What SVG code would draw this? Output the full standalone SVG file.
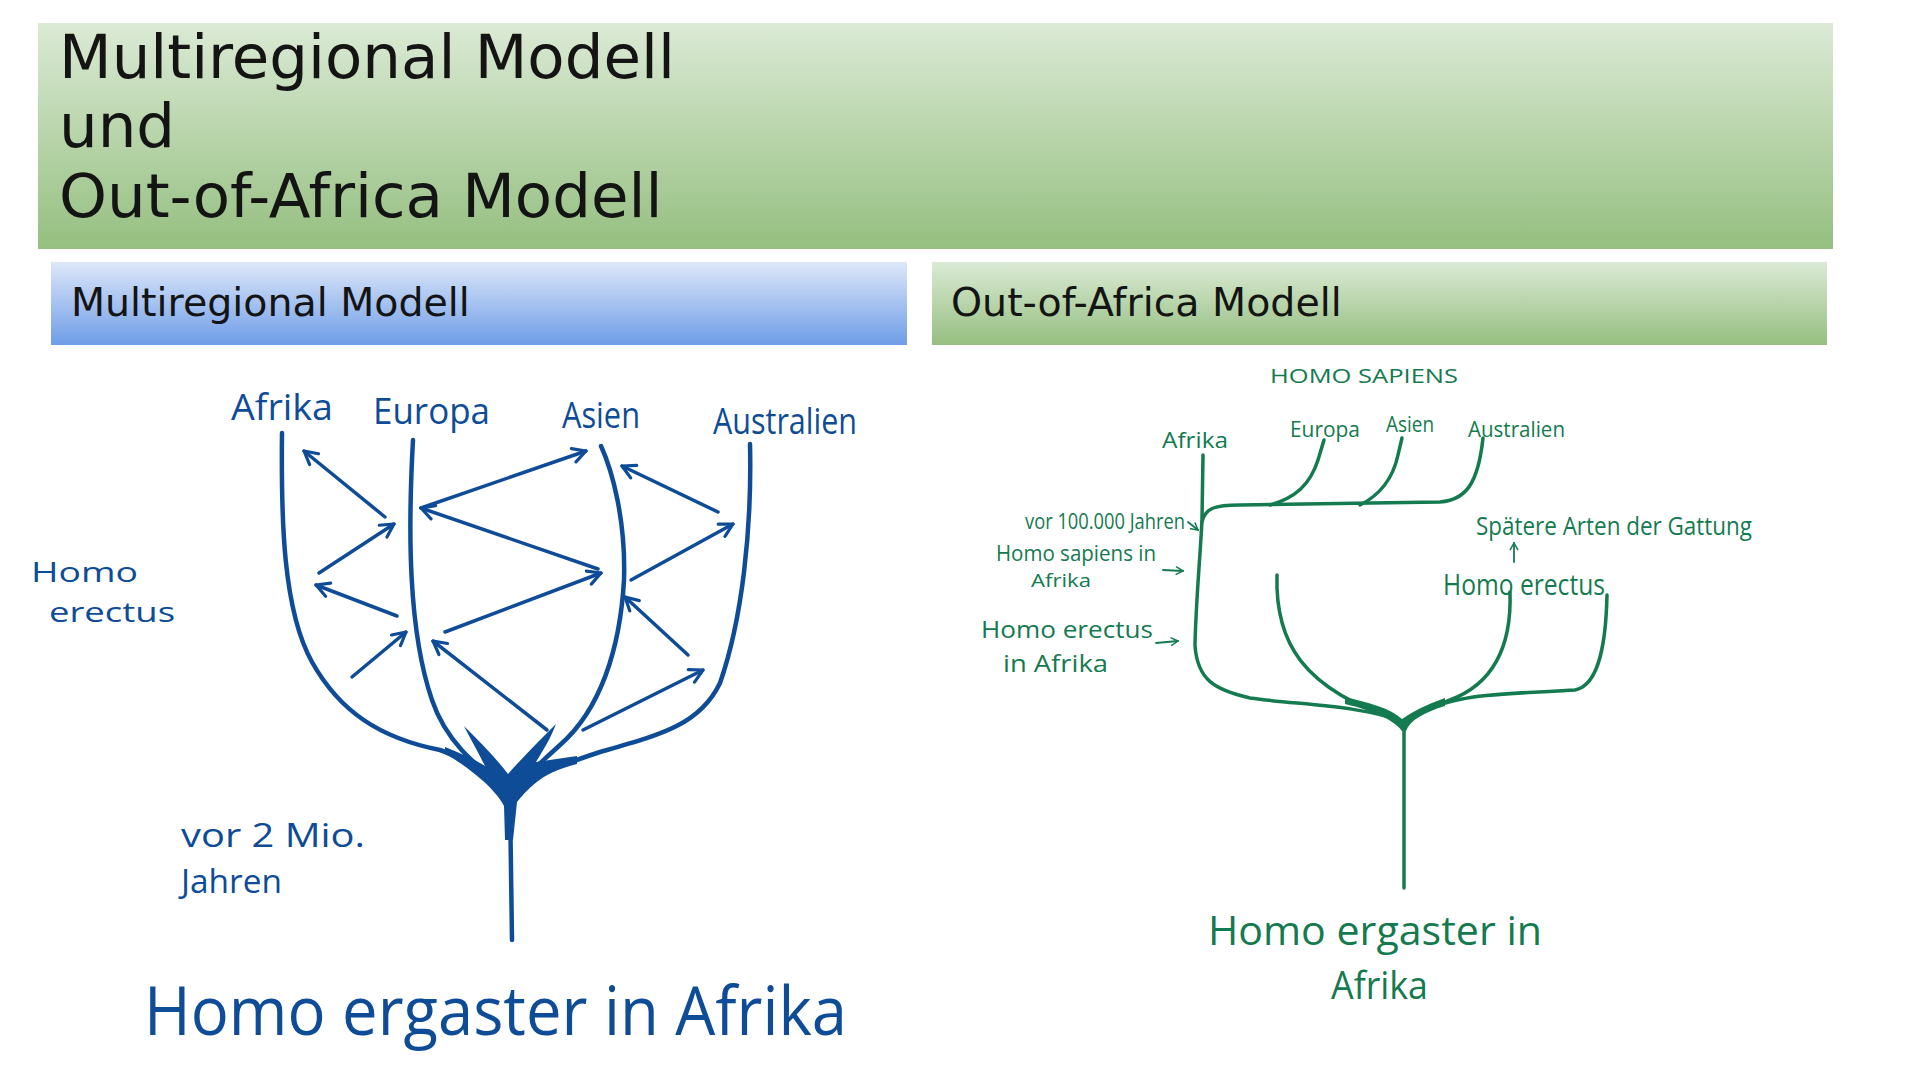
<svg xmlns="http://www.w3.org/2000/svg" width="1920" height="1080" viewBox="0 0 1920 1080">
  <defs>
    <linearGradient id="gGreen" x1="0" y1="0" x2="0" y2="1">
      <stop offset="0" stop-color="#dbead5"/>
      <stop offset="1" stop-color="#95bf80"/>
    </linearGradient>
    <linearGradient id="gBlue" x1="0" y1="0" x2="0" y2="1">
      <stop offset="0" stop-color="#dde7f9"/>
      <stop offset="1" stop-color="#6e9de7"/>
    </linearGradient>
    <marker id="ahBlue" viewBox="0 0 18 18" refX="16" refY="9" markerWidth="18" markerHeight="18" markerUnits="userSpaceOnUse" orient="auto">
      <path d="M3,2 L16,9 L3,16" fill="none" stroke="#0e4c98" stroke-width="3.2" stroke-linecap="round" stroke-linejoin="round"/>
    </marker>
    <marker id="ahGreen" viewBox="0 0 12 12" refX="10" refY="6" markerWidth="10" markerHeight="10" markerUnits="userSpaceOnUse" orient="auto">
      <path d="M2,1.5 L10,6 L2,10.5" fill="none" stroke="#147a50" stroke-width="1.8" stroke-linecap="round"/>
    </marker>
  </defs>
  <style>
    .title { font-family: "DejaVu Sans", "Liberation Sans", sans-serif; fill: #141414; }
    .hb { font-family: "Open Sans", "Liberation Sans", sans-serif; fill: #0e4c98; }
    .hg { font-family: "Open Sans", "Liberation Sans", sans-serif; fill: #147a50; }
    .lb { fill: none; stroke: #0e4c98; stroke-width: 4.5; stroke-linecap: round; stroke-linejoin: round; }
    .ab { fill: none; stroke: #0e4c98; stroke-width: 3.5; stroke-linecap: round; marker-end: url(#ahBlue); }
    .lg { fill: none; stroke: #147a50; stroke-width: 3.5; stroke-linecap: round; stroke-linejoin: round; }
    .ag { fill: none; stroke: #147a50; stroke-width: 1.8; stroke-linecap: round; marker-end: url(#ahGreen); }
  </style>
  <rect width="1920" height="1080" fill="#ffffff"/>

  <!-- Banners -->
  <g id="header">
    <rect x="38" y="23" width="1795" height="226" fill="url(#gGreen)"/>
    <text class="title" x="59" y="78" font-size="61">Multiregional Modell</text>
    <text class="title" x="59" y="147" font-size="61">und</text>
    <text class="title" x="59" y="217" font-size="61">Out-of-Africa Modell</text>
  </g>
  <g id="header-multiregional">
    <rect x="51" y="262" width="856" height="83" fill="url(#gBlue)"/>
    <text class="title" x="71" y="316" font-size="39.5">Multiregional Modell</text>
  </g>
  <g id="header-outofafrica">
    <rect x="932" y="262" width="895" height="83" fill="url(#gGreen)"/>
    <text class="title" x="951" y="316" font-size="39.5">Out-of-Africa Modell</text>
  </g>

  <!-- Left tree: Multiregional -->
  <g id="connectors-left">
    <path class="lb" d="M282,433 C281,520 283,610 312,662 C340,712 380,738 440,750 C470,760 495,778 510,792"/>
    <path class="lb" d="M413,440 C408,530 408,630 432,700 C447,745 480,768 510,792"/>
    <path class="lb" d="M601,446 C612,470 626,520 624,580 C620,650 600,710 560,745 C535,768 520,780 512,792"/>
    <path class="lb" d="M750,444 C752,530 742,620 720,683 C700,725 660,735 600,752 C560,765 530,778 512,792"/>
    <path class="lb" d="M510,800 L512,940" stroke-width="7"/>
    <path d="M445,747 C462,754 476,760 485,766 C478,752 470,738 464,726 C480,742 496,758 508,774 C522,758 540,740 556,724 C550,740 542,752 536,762 C550,760 563,758 577,756 L577,764 C568,766 560,769 553,772 C540,778 528,788 517,802 L513,840 L505,840 L504,806 C500,798 490,786 476,775 C465,766 455,759 445,754 Z" fill="#0e4c98"/>
    <line class="ab" x1="385" y1="517" x2="304" y2="451"/>
    <line class="ab" x1="319" y1="573" x2="394" y2="524"/>
    <line class="ab" x1="397" y1="616" x2="316" y2="585"/>
    <line class="ab" x1="352" y1="677" x2="406" y2="632"/>
    <line class="ab" x1="421" y1="508" x2="586" y2="451"/>
    <line class="ab" x1="598" y1="569" x2="421" y2="508"/>
    <line class="ab" x1="445" y1="632" x2="601" y2="573"/>
    <line class="ab" x1="547" y1="730" x2="433" y2="641"/>
    <line class="ab" x1="718" y1="512" x2="622" y2="466"/>
    <line class="ab" x1="631" y1="580" x2="733" y2="524"/>
    <line class="ab" x1="688" y1="655" x2="625" y2="597"/>
    <line class="ab" x1="583" y1="730" x2="703" y2="670"/>
  </g>
  <g id="left-afrika"><text class="hb" x="231" y="420" font-size="36" textLength="102" lengthAdjust="spacingAndGlyphs">Afrika</text></g>
  <g id="left-europa"><text class="hb" x="373" y="424" font-size="36" textLength="117" lengthAdjust="spacingAndGlyphs">Europa</text></g>
  <g id="left-asien"><text class="hb" x="562" y="428" font-size="36" textLength="78" lengthAdjust="spacingAndGlyphs">Asien</text></g>
  <g id="left-australien"><text class="hb" x="713" y="434" font-size="36" textLength="144" lengthAdjust="spacingAndGlyphs">Australien</text></g>
  <g id="left-homo-erectus">
    <text class="hb" x="31" y="582" font-size="28" textLength="107" lengthAdjust="spacingAndGlyphs">Homo</text>
    <text class="hb" x="49" y="622" font-size="28" textLength="126" lengthAdjust="spacingAndGlyphs">erectus</text>
  </g>
  <g id="left-vor-2-mio">
    <text class="hb" x="181" y="847" font-size="32" textLength="184" lengthAdjust="spacingAndGlyphs">vor 2 Mio.</text>
    <text class="hb" x="181" y="893" font-size="32" textLength="101" lengthAdjust="spacingAndGlyphs">Jahren</text>
  </g>
  <g id="left-ergaster"><text class="hb" x="144" y="1035" font-size="68" textLength="703" lengthAdjust="spacingAndGlyphs">Homo ergaster in Afrika</text></g>

  <!-- Right tree: Out-of-Africa -->
  <g id="connectors-right">
    <path class="lg" d="M1203,455 L1202,520 C1200,560 1196,600 1195,645 C1197,680 1215,690 1250,698 C1300,705 1360,705 1404,722"/>
    <path class="lg" d="M1202,522 C1205,508 1215,505 1240,505 L1440,502 C1465,500 1478,485 1483,438"/>
    <path class="lg" d="M1270,505 C1295,498 1310,485 1318,460 L1324,440"/>
    <path class="lg" d="M1360,505 C1380,495 1393,478 1398,455 L1402,438"/>
    <path class="lg" d="M1277,575 C1275,640 1300,690 1404,722"/>
    <path class="lg" d="M1510,592 C1512,650 1490,685 1450,700 C1430,708 1415,714 1404,722"/>
    <path class="lg" d="M1607,595 C1606,640 1600,685 1575,690 C1530,693 1470,693 1440,705 C1420,712 1410,717 1404,722"/>
    <path class="lg" d="M1404,722 L1404,888" stroke-width="4.5"/>
    <path d="M1345,697 C1370,703 1390,708 1402,719 C1412,712 1425,705 1445,698 L1445,706 C1425,712 1410,720 1406,731 L1402,731 C1392,718 1370,710 1345,704 Z" fill="#147a50"/>
    <line class="ag" x1="1188" y1="522" x2="1198" y2="530"/>
    <line class="ag" x1="1163" y1="570" x2="1183" y2="571"/>
    <line class="ag" x1="1156" y1="643" x2="1178" y2="641"/>
    <line class="ag" x1="1514" y1="562" x2="1514" y2="543"/>
  </g>
  <g id="right-homo-sapiens"><text class="hg" x="1270" y="383" font-size="20" textLength="188" lengthAdjust="spacingAndGlyphs">HOMO  SAPIENS</text></g>
  <g id="right-afrika"><text class="hg" x="1162" y="448" font-size="22" textLength="66" lengthAdjust="spacingAndGlyphs">Afrika</text></g>
  <g id="right-europa"><text class="hg" x="1290" y="437" font-size="22" textLength="70" lengthAdjust="spacingAndGlyphs">Europa</text></g>
  <g id="right-asien"><text class="hg" x="1386" y="432" font-size="22" textLength="48" lengthAdjust="spacingAndGlyphs">Asien</text></g>
  <g id="right-australien"><text class="hg" x="1468" y="437" font-size="22" textLength="97" lengthAdjust="spacingAndGlyphs">Australien</text></g>
  <g id="right-vor-100000"><text class="hg" x="1025" y="529" font-size="22" textLength="160" lengthAdjust="spacingAndGlyphs">vor 100.000 Jahren</text></g>
  <g id="right-homo-sapiens-afrika">
    <text class="hg" x="996" y="561" font-size="22" textLength="160" lengthAdjust="spacingAndGlyphs">Homo sapiens in</text>
    <text class="hg" x="1031" y="587" font-size="18" textLength="60" lengthAdjust="spacingAndGlyphs">Afrika</text>
  </g>
  <g id="right-homo-erectus-afrika">
    <text class="hg" x="981" y="638" font-size="24" textLength="172" lengthAdjust="spacingAndGlyphs">Homo erectus</text>
    <text class="hg" x="1003" y="672" font-size="24" textLength="105" lengthAdjust="spacingAndGlyphs">in Afrika</text>
  </g>
  <g id="right-spaetere"><text class="hg" x="1476" y="535" font-size="26" textLength="276" lengthAdjust="spacingAndGlyphs">Spätere Arten der Gattung</text></g>
  <g id="right-homo-erectus"><text class="hg" x="1443" y="595" font-size="30" textLength="162" lengthAdjust="spacingAndGlyphs">Homo erectus</text></g>
  <g id="right-ergaster">
    <text class="hg" x="1208" y="945" font-size="40" textLength="334" lengthAdjust="spacingAndGlyphs">Homo ergaster in</text>
    <text class="hg" x="1331" y="999" font-size="38" textLength="97" lengthAdjust="spacingAndGlyphs">Afrika</text>
  </g>
</svg>
